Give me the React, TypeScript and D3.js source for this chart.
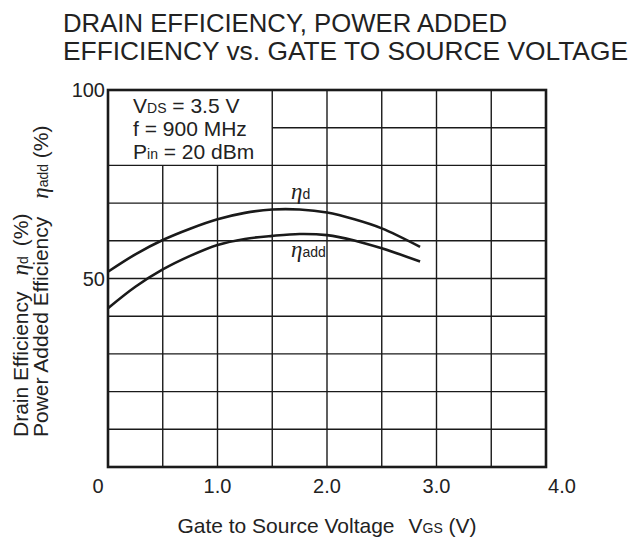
import React, { useEffect, useRef } from "react";
import * as d3 from "d3";

// axis ticks
const xTicks = [0, 1.0, 2.0, 3.0, 4.0];
const xTickLabels = ["0", "1.0", "2.0", "3.0", "4.0"];
const yTicks = [50, 100];
const yTickLabels = ["50", "100"];

// curves (VGS in V, efficiency in %)
const vgs = [0, 0.25, 0.5, 0.75, 1.0, 1.25, 1.5, 1.75, 2.0, 2.25, 2.5, 2.85];
const etaD = [51.8, 56.4, 60.2, 63.2, 65.7, 67.4, 68.3, 68.3, 67.5, 65.7, 63.3, 58.4];
const etaAdd = [42.1, 47.8, 52.4, 56.0, 58.9, 60.5, 61.3, 61.8, 61.5, 60.1, 58.0, 54.5];

const FONT = "'Liberation Sans', Arial, Helvetica, sans-serif";
const GREEK = "'Liberation Serif', 'DejaVu Serif', serif";
const INK = "#1a1a1a";

const W = 637,
    H = 541;
const margin = { left: 108, right: 546, top: 90, bottom: 467 };

const Eta: React.FC<{ sub: string; dx?: number }> = ({ sub, dx }) => (
    <>
        <tspan dx={dx} fontFamily={GREEK} fontStyle="italic" fontSize={23}>η</tspan>
        <tspan fontSize={14}>{sub}</tspan>
    </>
);

const App: React.FC = () => {
    const gRef = useRef<SVGGElement>(null);

    useEffect(() => {
        const g = d3.select(gRef.current);
        g.selectAll("*").remove();

        const x = d3.scaleLinear().domain([0, 4]).range([margin.left, margin.right]);
        const y = d3.scaleLinear().domain([0, 100]).range([margin.bottom, margin.top]);

        const grid = g.append("g").attr("stroke", INK).attr("stroke-width", 1.4);

        // vertical grid lines, cut where the condition box sits (0..1.5 V, 80..100 %)
        d3.range(0.5, 4, 0.5).forEach((v) => {
            grid.append("line")
                .attr("x1", x(v))
                .attr("x2", x(v))
                .attr("y1", v < 1.5 ? y(80) : y(100))
                .attr("y2", y(0));
        });
        d3.range(10, 100, 10).forEach((v) => {
            grid.append("line")
                .attr("x1", v === 90 ? x(1.5) : x(0))
                .attr("x2", x(4))
                .attr("y1", y(v))
                .attr("y2", y(v));
        });

        g.append("rect")
            .attr("x", x(0))
            .attr("y", y(100))
            .attr("width", x(4) - x(0))
            .attr("height", y(0) - y(100))
            .attr("fill", "none")
            .attr("stroke", INK)
            .attr("stroke-width", 2.6);

        const ln = d3
            .line<number>()
            .x((_, i) => x(vgs[i]))
            .y((d) => y(d))
            .curve(d3.curveCatmullRom);

        [etaD, etaAdd].forEach((s) => {
            g.append("path")
                .datum(s)
                .attr("fill", "none")
                .attr("stroke", INK)
                .attr("stroke-width", 2.6)
                .attr("d", ln);
        });

        const tl = g.append("g")
            .attr("font-family", FONT)
            .attr("font-size", 20)
            .attr("fill", "#222");
        xTicks.forEach((t, i) => {
            let xx = x(t);
            if (i === 0) xx -= 10; // "0" sits left of the frame
            if (i === xTicks.length - 1) xx += 16; // "4.0" sits right of it
            tl.append("text")
                .attr("x", xx)
                .attr("y", 493)
                .attr("text-anchor", "middle")
                .text(xTickLabels[i]);
        });
        yTicks.forEach((t, i) => {
            tl.append("text")
                .attr("x", 105)
                .attr("y", y(t) + 7)
                .attr("text-anchor", "end")
                .text(yTickLabels[i]);
        });
    }, []);

    return (
        <svg
            width={W}
            height={H}
            style={{ position: "absolute", left: 0, top: 0, background: "#fff" }}
            fontFamily={FONT}
            fill="#222"
        >
            <text x={63} y={32} fontSize={26} textLength={444} lengthAdjust="spacingAndGlyphs">
                DRAIN EFFICIENCY, POWER ADDED
            </text>
            <text x={63} y={60} fontSize={26} textLength={565} lengthAdjust="spacingAndGlyphs">
                EFFICIENCY vs. GATE TO SOURCE VOLTAGE
            </text>

            <g ref={gRef} />

            <text x={133} y={113} fontSize={21}>
                V<tspan fontSize={14}>DS</tspan> = 3.5 V
            </text>
            <text x={133} y={136} fontSize={21}>f = 900 MHz</text>
            <text x={133} y={159} fontSize={21}>
                P<tspan fontSize={14}>in</tspan> = 20 dBm
            </text>

            <text x={291} y={199} fontSize={21}>
                <Eta sub="d" />
            </text>
            <text x={291} y={257} fontSize={21}>
                <Eta sub="add" />
            </text>

            <text x={327} y={533} fontSize={21} textAnchor="middle">
                Gate to Source Voltage<tspan dx={14}>V</tspan>
                <tspan fontSize={14}>GS</tspan> (V)
            </text>

            <text transform="translate(28,437) rotate(-90)" fontSize={21}>
                Drain Efficiency
                <Eta sub="d" dx={16} />
                <tspan dx={10}>(%)</tspan>
            </text>
            <text transform="translate(48,437) rotate(-90)" fontSize={21}>
                Power Added Efficiency
                <Eta sub="add" dx={18} /> (%)
            </text>
        </svg>
    );
};

export default App;
